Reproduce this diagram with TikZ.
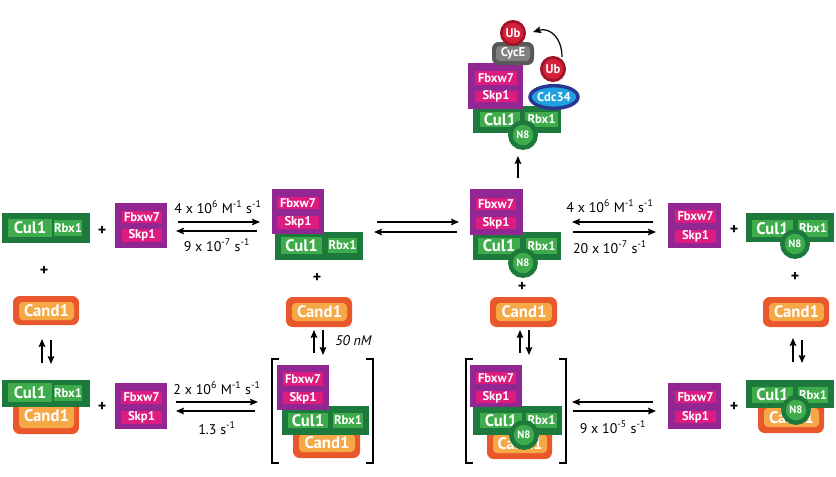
\documentclass[tikz,border=0pt]{standalone}
\usepackage{fontspec}
\setmainfont{PT Sans}
\usetikzlibrary{arrows.meta,shapes.geometric}
\definecolor{dkgreen}{RGB}{30,122,60}
\definecolor{ltgreen}{RGB}{62,172,74}
\definecolor{purp}{RGB}{146,38,146}
\definecolor{pinkc}{RGB}{222,28,128}
\definecolor{orng}{RGB}{232,88,44}
\definecolor{ltorng}{RGB}{246,168,70}
\definecolor{ubdark}{RGB}{160,20,40}
\definecolor{ubred}{RGB}{212,32,56}
\definecolor{grdark}{RGB}{88,88,88}
\definecolor{grlight}{RGB}{128,128,128}
\definecolor{bldark}{RGB}{40,56,144}
\definecolor{bllight}{RGB}{30,160,225}
\newcommand{\fCul}{\fontsize{12.5}{13}\selectfont\bfseries}
\newcommand{\fSm}{\fontsize{9.5}{10}\selectfont\bfseries}
\newcommand{\fNe}{\fontsize{8}{8}\selectfont\bfseries}
\newcommand{\fLab}{\fontsize{10.5}{12}\selectfont}
\newcommand{\bx}[7]{\node[#6, minimum width={(#4-#2)*0.75pt}, minimum height={(#5-#3)*0.75pt}] (#1) at ({(#2+#4)/2},{(#3+#5)/2}) {#7};}
\tikzset{
  base/.style={rectangle, inner sep=0pt, outer sep=0pt, text=white},
  culo/.style={base, fill=dkgreen},
  culi/.style={base, fill=ltgreen, font=\fCul},
  rbxi/.style={base, fill=ltgreen, font=\fSm},
  purpo/.style={base, fill=purp},
  pinki/.style={base, fill=pinkc, font=\fSm},
  cando/.style={base, fill=orng, rounded corners=5pt},
  candi/.style={base, fill=ltorng, rounded corners=3pt, font=\fCul},
  neddb/.style={circle, fill=ltgreen, draw=dkgreen, line width=3.4pt, minimum size=19pt, inner sep=0pt, text=white, font=\fNe},
  ubq/.style={circle, fill=ubred, draw=ubdark, line width=2pt, minimum size=17.5pt, inner sep=0pt, text=white, font=\fSm},
  rxn/.style={line width=0.9pt, -{Stealth[length=6pt,width=5pt,inset=1pt]}},
  plus/.style={font=\fontsize{12}{12}\selectfont\bfseries},
  lab/.style={font=\fLab, inner sep=0pt},
  brk/.style={line width=1.5pt},
}
\begin{document}
\begin{tikzpicture}[x=0.75pt,y=-0.75pt]
\useasboundingbox (0,0) rectangle (836,476);

% ---------- left column row 1
\bx{L1g}{2}{213}{90}{243}{culo}{}
\bx{L1c}{8}{219}{52}{237}{culi}{Cul1}
\bx{L1r}{54}{220}{82}{236}{rbxi}{Rbx1}
\node[plus] (p1) at (102,231) {+};
\bx{L1p}{115}{203}{167}{248}{purpo}{}
\bx{L1f}{122}{211}{162}{223}{pinki}{Fbxw7}
\bx{L1s}{122}{229}{162}{242}{pinki}{Skp1}
\node[plus] (p2) at (44,271) {+};
\bx{L1a}{13}{296}{79}{325}{cando}{}
\bx{L1ai}{19}{302}{74}{320}{candi}{Cand1}

% ---------- left column row 2
\bx{L2a}{13}{398}{79}{434}{cando}{}
\bx{L2ai}{19}{404}{74}{428}{candi}{Cand1}
\bx{L2g}{2}{380}{90}{407}{culo}{}
\bx{L2c}{8}{383}{52}{402}{culi}{Cul1}
\bx{L2r}{54}{385}{82}{401}{rbxi}{Rbx1}
\node[plus] (p3) at (102,407) {+};
\bx{L2p}{115}{383}{167}{429}{purpo}{}
\bx{L2f}{121}{391}{162}{404}{pinki}{Fbxw7}
\bx{L2s}{121}{411}{162}{424}{pinki}{Skp1}

% ---------- column 2 row 1
\bx{C2g}{275}{232}{363}{260}{culo}{}
\bx{C2c}{281}{237}{322}{254}{culi}{Cul1}
\bx{C2r}{328}{238}{357}{253}{rbxi}{Rbx1}
\bx{C2p}{272}{189}{324}{234}{purpo}{}
\bx{C2f}{277}{197}{319}{209}{pinki}{Fbxw7}
\bx{C2s}{277}{216}{319}{229}{pinki}{Skp1}
\node[plus] (p4) at (317,278) {+};
\bx{C2a}{286}{297}{352}{327}{cando}{}
\bx{C2ai}{292}{303}{347}{321}{candi}{Cand1}

% ---------- column 2 row 2
\bx{D2a}{293}{428}{360}{458}{cando}{}
\bx{D2ai}{299}{434}{355}{452}{candi}{Cand1}
\bx{D2g}{282}{406}{369}{435}{culo}{}
\bx{D2c}{288}{413}{328}{428}{culi}{Cul1}
\bx{D2r}{333}{413}{363}{428}{rbxi}{Rbx1}
\bx{D2p}{277}{365}{329}{410}{purpo}{}
\bx{D2f}{283}{372}{323}{386}{pinki}{Fbxw7}
\bx{D2s}{283}{392}{323}{404}{pinki}{Skp1}
\coordinate (b1a) at (279,359); \coordinate (b1b) at (272,359);
\coordinate (b1c) at (272,463); \coordinate (b1d) at (279,463);
\draw[brk] (b1a) -- (b1b) -- (b1c) -- (b1d);
\coordinate (b2a) at (366,359); \coordinate (b2b) at (373,359);
\coordinate (b2c) at (373,463); \coordinate (b2d) at (366,463);
\draw[brk] (b2a) -- (b2b) -- (b2c) -- (b2d);

% ---------- column 3 row 1
\bx{C3g}{473}{232}{561}{260}{culo}{}
\bx{C3c}{478}{238}{520}{254}{culi}{Cul1}
\bx{C3r}{526}{238}{557}{254}{rbxi}{Rbx1}
\bx{C3p}{470}{189}{523}{235}{purpo}{}
\bx{C3f}{476}{198}{516}{210}{pinki}{Fbxw7}
\bx{C3s}{476}{217}{516}{229}{pinki}{Skp1}
\node[neddb] (C3n) at (523,263) {N8};
\node[plus] (p5) at (522,287) {+};
\bx{C3a}{490}{297}{557}{327}{cando}{}
\bx{C3ai}{496}{303}{552}{321}{candi}{Cand1}

% ---------- column 3 row 2
\bx{D3a}{487}{428}{552}{459}{cando}{}
\bx{D3ai}{493}{434}{547}{453}{candi}{Cand1}
\bx{D3g}{473}{406}{562}{435}{culo}{}
\bx{D3c}{480}{413}{522}{428}{culi}{Cul1}
\bx{D3r}{526}{413}{557}{428}{rbxi}{Rbx1}
\bx{D3p}{470}{365}{522}{407}{purpo}{}
\bx{D3f}{476}{372}{516}{384}{pinki}{Fbxw7}
\bx{D3s}{476}{391}{516}{403}{pinki}{Skp1}
\node[neddb] (D3n) at (524,435) {N8};
\coordinate (b3a) at (473,359); \coordinate (b3b) at (466,359);
\coordinate (b3c) at (466,463); \coordinate (b3d) at (473,463);
\draw[brk] (b3a) -- (b3b) -- (b3c) -- (b3d);
\coordinate (b4a) at (559,359); \coordinate (b4b) at (566,359);
\coordinate (b4c) at (566,463); \coordinate (b4d) at (559,463);
\draw[brk] (b4a) -- (b4b) -- (b4c) -- (b4d);

% ---------- column 4 row 1
\bx{C4p}{668}{203}{721}{248}{purpo}{}
\bx{C4f}{675}{210}{716}{223}{pinki}{Fbxw7}
\bx{C4s}{675}{230}{716}{243}{pinki}{Skp1}
\node[plus] (p6) at (734,230) {+};
\bx{C4g}{746}{213}{834}{242}{culo}{}
\bx{C4c}{752}{220}{793}{237}{culi}{Cul1}
\bx{C4r}{798}{220}{828}{237}{rbxi}{Rbx1}
\node[neddb] (C4n) at (795,244) {N8};
\node[plus] (p7) at (795,277) {+};
\bx{C4a}{763}{297}{829}{327}{cando}{}
\bx{C4ai}{769}{303}{824}{321}{candi}{Cand1}

% ---------- column 4 row 2
\bx{D4p}{668}{383}{721}{429}{purpo}{}
\bx{D4f}{675}{391}{716}{403}{pinki}{Fbxw7}
\bx{D4s}{675}{411}{716}{423}{pinki}{Skp1}
\node[plus] (p8) at (734,407) {+};
\bx{D4a}{758}{402}{824}{433}{cando}{}
\bx{D4ai}{764}{408}{819}{427}{candi}{Cand1}
\bx{D4g}{746}{380}{834}{408}{culo}{}
\bx{D4c}{752}{387}{793}{403}{culi}{Cul1}
\bx{D4r}{798}{387}{828}{403}{rbxi}{Rbx1}
\node[neddb] (D4n) at (796,410) {N8};

% ---------- top complex
\bx{Tg}{473}{106}{561}{133}{culo}{}
\bx{Tc}{480}{112}{520}{127}{culi}{Cul1}
\bx{Tr}{525}{112}{558}{127}{rbxi}{Rbx1}
\bx{Tp}{468}{63}{523}{109}{purpo}{}
\bx{Tf}{475}{71}{517}{85}{pinki}{Fbxw7}
\bx{Ts}{475}{91}{517}{102}{pinki}{Skp1}
\node[neddb] (Tn) at (523,135) {N8};
\node[ellipse, fill=bllight, draw=bldark, line width=2.6pt, minimum width=36pt, minimum height=17pt, inner sep=0pt, text=white, font=\fSm] (Tcdc) at (554,97) {Cdc34};
\node[ubq] (Tub2) at (553,69) {Ub};
\bx{Tcy}{492}{42}{534}{65}{base, fill=grdark, rounded corners=5pt}{}
\bx{Tcyi}{496}{46}{530}{61}{base, fill=grlight, rounded corners=3pt, font=\fSm}{CycE}
\node[ubq] (Tub1) at (513,33) {Ub};
\coordinate (cvs) at (562,57);
\coordinate (cve) at (533,32);
\draw[rxn] (cvs) .. controls (562,38) and (550,27) .. (cve);

% ---------- vertical arrows
\coordinate (vL1) at (42,363); \coordinate (vL2) at (42,339);
\coordinate (vL3) at (51,340); \coordinate (vL4) at (51,364);
\draw[rxn] (vL1) -- (vL2); \draw[rxn] (vL3) -- (vL4);
\coordinate (v21) at (314,353); \coordinate (v22) at (314,330);
\coordinate (v23) at (323,330); \coordinate (v24) at (323,355);
\draw[rxn] (v21) -- (v22); \draw[rxn] (v23) -- (v24);
\coordinate (v31) at (520,353); \coordinate (v32) at (520,330);
\coordinate (v33) at (529,330); \coordinate (v34) at (529,355);
\draw[rxn] (v31) -- (v32); \draw[rxn] (v33) -- (v34);
\coordinate (v41) at (793,362); \coordinate (v42) at (793,338);
\coordinate (v43) at (802,340); \coordinate (v44) at (802,363);
\draw[rxn] (v41) -- (v42); \draw[rxn] (v43) -- (v44);
\coordinate (vt1) at (518,178); \coordinate (vt2) at (518,156);
\draw[rxn] (vt1) -- (vt2);
\node[lab, font=\fLab\itshape, anchor=west] (nm) at (335,341) {50 nM};

% ---------- horizontal arrows
\coordinate (h1a) at (178,222); \coordinate (h1b) at (260,222);
\coordinate (h1c) at (257,231); \coordinate (h1d) at (176,231);
\draw[rxn] (h1a) -- (h1b); \draw[rxn] (h1c) -- (h1d);
\node[lab] (k1) at (218,207) {4 x 10\textsuperscript{6} M\textsuperscript{-1} s\textsuperscript{-1}};
\node[lab] (k2) at (217,245) {9 x 10\textsuperscript{-7} s\textsuperscript{-1}};

\coordinate (h2a) at (176,402); \coordinate (h2b) at (258,402);
\coordinate (h2c) at (255,411); \coordinate (h2d) at (176,411);
\draw[rxn] (h2a) -- (h2b); \draw[rxn] (h2c) -- (h2d);
\node[lab] (k3) at (217,388) {2 x 10\textsuperscript{6} M\textsuperscript{-1} s\textsuperscript{-1}};
\node[lab] (k4) at (217,428) {1.3 s\textsuperscript{-1}};

\coordinate (h3a) at (377,222); \coordinate (h3b) at (459,222);
\coordinate (h3c) at (457,232); \coordinate (h3d) at (374,232);
\draw[rxn] (h3a) -- (h3b); \draw[rxn] (h3c) -- (h3d);

\coordinate (h4a) at (653,222); \coordinate (h4b) at (572,222);
\coordinate (h4c) at (573,232); \coordinate (h4d) at (656,232);
\draw[rxn] (h4a) -- (h4b); \draw[rxn] (h4c) -- (h4d);
\node[lab] (k5) at (610,206) {4 x 10\textsuperscript{6} M\textsuperscript{-1} s\textsuperscript{-1}};
\node[lab] (k6) at (610,247) {20 x 10\textsuperscript{-7} s\textsuperscript{-1}};

\coordinate (h5a) at (653,402); \coordinate (h5b) at (572,402);
\coordinate (h5c) at (573,411); \coordinate (h5d) at (656,411);
\draw[rxn] (h5a) -- (h5b); \draw[rxn] (h5c) -- (h5d);
\node[lab] (k7) at (613,427) {9 x 10\textsuperscript{-5} s\textsuperscript{-1}};
\end{tikzpicture}
\end{document}
